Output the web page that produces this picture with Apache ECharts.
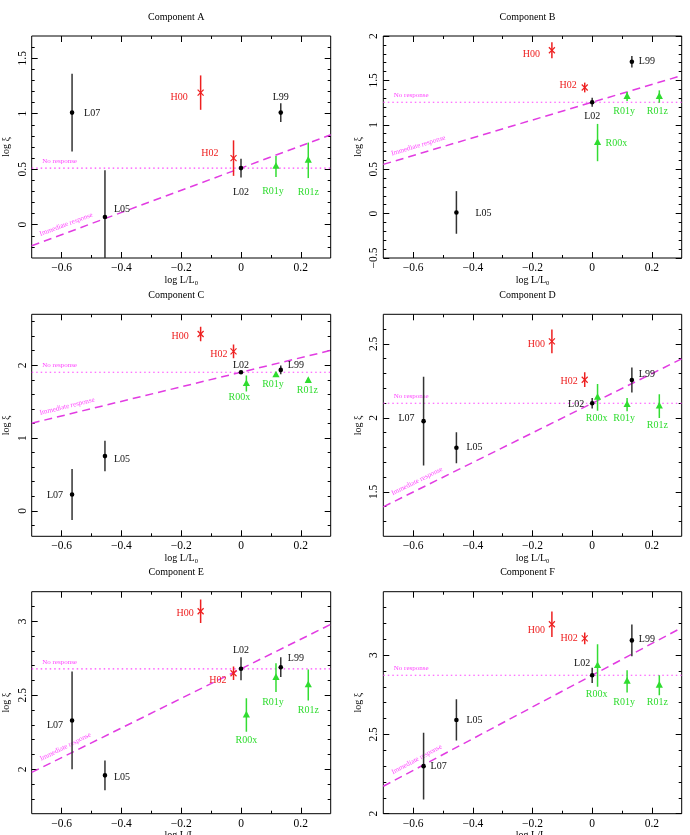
<!DOCTYPE html>
<html>
<head>
<meta charset="utf-8">
<script src="https://cdn.jsdelivr.net/npm/echarts@6/dist/echarts.min.js"></script>
<style>
  html, body { margin: 0; padding: 0; background: #fff; }
  #chart { width: 690px; height: 835px; }
</style>
</head>
<body>
<div id="chart"></div>
<script>
// --- data ---
const panelTitles = ['Component A', 'Component B', 'Component C', 'Component D', 'Component E', 'Component F']
const pointNames  = ['L07', 'L05', 'H00', 'H02', 'L02', 'L99', 'R00x', 'R01y', 'R01z']
const pointGroups = ['L', 'L', 'H', 'H', 'L', 'L', 'R', 'R', 'R']
const logL        = [-0.565, -0.455, -0.135, -0.025, 0, 0.133, 0.018, 0.117, 0.225]

const logXiA = [1.01, 0.07, 1.19, 0.60, 0.51, 1.01, null, 0.525, 0.58]
const errA   = [0.35, 0.42, 0.155, 0.16, 0.085, 0.085, null, 0.095, 0.16]
const logXiB = [null, 0.013, 1.84, 1.42, 1.254, 1.71, 0.80, 1.318, 1.318]
const errB   = [null, 0.24, 0.09, 0.055, 0.05, 0.065, 0.21, 0.05, 0.07]
const logXiC = [0.225, 0.752, 2.43, 2.19, 1.904, 1.936, 1.748, 1.867, 1.79]
const errC   = [0.35, 0.21, 0.10, 0.095, 0.02, 0.06, 0.11, 0.03, 0.03]
const logXiD = [1.978, 1.798, 2.517, 2.258, 2.099, 2.256, 2.139, 2.09, 2.079]
const errD   = [0.30, 0.105, 0.08, 0.05, 0.035, 0.085, 0.09, 0.045, 0.08]
const logXiE = [2.33, 1.959, 3.068, 2.649, 2.679, 2.69, 2.367, 2.62, 2.57]
const errE   = [0.33, 0.10, 0.08, 0.045, 0.078, 0.067, 0.113, 0.097, 0.105]
const logXiF = [2.30, 2.591, 3.195, 3.106, 2.873, 3.093, 2.934, 2.835, 2.81]
const errF   = [0.21, 0.13, 0.08, 0.037, 0.048, 0.10, 0.134, 0.07, 0.063]

const noResponse = [0.51, 1.254, 1.904, 2.099, 2.679, 2.873]
const immediateSlope = 1

const xMin = -0.7, xMax = 0.3
const xTickLabels = [-0.6, -0.4, -0.2, 0, 0.2]
const yMin = [-0.3, -0.5, -0.35, 1.2, 1.7, 2]
const yMax = [1.7, 2, 2.7, 2.7, 3.2, 3.4]
const yTickLabelsA = [0, 0.5, 1, 1.5]
const yTickLabelsB = [-0.5, 0, 0.5, 1, 1.5, 2]
const yTickLabelsC = [0, 1, 2]
const yTickLabelsD = [1.5, 2, 2.5]
const yTickLabelsE = [2, 2.5, 3]
const yTickLabelsF = [2, 2.5, 3]
const yMinorStep = [0.1, 0.1, 0.2, 0.1, 0.1, 0.1]

// label placement next to each point: [dx, dy, align]
const labelPosA = [[12, 1, 'left'], [9, -8, 'left'], [-13, 5, 'right'], [-15, -5, 'right'], [0, 24, 'center'], [0, -15, 'center'], null, [-3, 25, 'center'], [0, 32, 'center']]
const labelPosB = [null, [19, 1, 'left'], [-12, 4, 'right'], [-8, -2, 'right'], [0, 14, 'center'], [7, 0, 'left'], [8, 1, 'left'], [-3, 15, 'center'], [-2, 15, 'center']]
const labelPosC = [[-9, 1, 'right'], [9, 3, 'left'], [-12, 2, 'right'], [-6, 3, 'right'], [0, -7, 'center'], [7, -5, 'left'], [-7, 14, 'center'], [-3, 9, 'center'], [-1, 10, 'center']]
const labelPosD = [[-9, -3, 'right'], [10, 0, 'left'], [-7, 3, 'right'], [-7, 2, 'right'], [-8, 1, 'right'], [7, -6, 'left'], [-1, 21, 'center'], [-3, 14, 'center'], [-2, 19, 'center']]
const labelPosE = [[-9, 5, 'right'], [9, 2, 'left'], [-7, 2, 'right'], [-7, 7, 'right'], [0, -18, 'center'], [7, -9, 'left'], [0, 25, 'center'], [-3, 25, 'center'], [0, 25, 'center']]
const labelPosF = [[7, 0, 'left'], [10, 0, 'left'], [-7, 6, 'right'], [-7, 0, 'right'], [-2, -12, 'right'], [7, -1, 'left'], [-1, 29, 'center'], [-3, 21, 'center'], [-2, 17, 'center']]

const logXi = [logXiA, logXiB, logXiC, logXiD, logXiE, logXiF]
const errs = [errA, errB, errC, errD, errE, errF]
const yTickLabels = [yTickLabelsA, yTickLabelsB, yTickLabelsC, yTickLabelsD, yTickLabelsE, yTickLabelsF]
const labelPos = [labelPosA, labelPosB, labelPosC, labelPosD, labelPosE, labelPosF]

// --- layout / styles ---
const FONT = 'Liberation Serif'
const MAG = '#e23ce2'
const markColor = { L: '#000', H: '#ee2020', R: '#2fdc2f' }
const barColor  = { L: '#333', H: '#ee2020', R: '#33dd33' }
const textColor = { L: '#111', H: '#ee2020', R: '#2fdc2f' }
const gridLeft = [31.7, 383.3]
const gridWidth = [299, 298.4]
const gridTop = [36, 314.3, 591.7]
const gridHeight = 222

function fmt(v) { return v < 0 ? '\u2212' + Math.abs(v) : String(v) }

function minorTicks(lo, hi, step, major) {
  const out = []
  for (let v = Math.ceil(lo / step - 1e-6) * step; v < hi + 1e-9; v += step) {
    const r = Math.round(v * 1000) / 1000
    if (r <= lo + 1e-6 || r >= hi - 1e-6) continue
    if (major.some(m => Math.abs(m - r) < 1e-6)) continue
    out.push(r)
  }
  return out
}

const xMinor = minorTicks(xMin, xMax, 0.1, xTickLabels)

const grids = [], xAxes = [], yAxes = [], series = [], graphics = []

function tickAxis(i, pos, min, max, ticks, len) {
  return {
    gridIndex: i, type: 'value', min, max, position: pos,
    axisLine: { show: false, onZero: false },
    axisTick: { show: true, inside: true, length: len, customValues: ticks, lineStyle: { color: '#000', width: 1 } },
    axisLabel: { show: false },
    splitLine: { show: false }
  }
}

for (let i = 0; i < 6; i++) {
  const col = i % 2, row = Math.floor(i / 2)
  grids.push({
    left: gridLeft[col], top: gridTop[row], width: gridWidth[col], height: gridHeight,
    show: true, borderColor: '#000', borderWidth: 1, containLabel: false, outerBoundsMode: 'none'
  })
  const yMinor = minorTicks(yMin[i], yMax[i], yMinorStep[i], yTickLabels[i])

  const xMain = tickAxis(i, 'bottom', xMin, xMax, xTickLabels, 6)
  xMain.axisLabel = { show: true, customValues: xTickLabels, formatter: fmt, margin: 4, fontSize: 11.5, fontFamily: FONT, color: '#000' }
  xMain.name = 'log L/L{s|0}'
  xMain.nameLocation = 'middle'
  xMain.nameGap = 13
  xMain.nameTextStyle = { fontSize: 10, fontFamily: FONT, color: '#000', rich: { s: { fontSize: 6.5, fontFamily: FONT, color: '#000', padding: [6, 0, 0, 0] } } }
  xAxes.push(xMain, tickAxis(i, 'bottom', xMin, xMax, xMinor, 3),
             tickAxis(i, 'top', xMin, xMax, xTickLabels, 6), tickAxis(i, 'top', xMin, xMax, xMinor, 3))

  const yMainAx = tickAxis(i, 'left', yMin[i], yMax[i], yTickLabels[i], 6)
  yMainAx.axisLabel = { show: true, customValues: yTickLabels[i], formatter: fmt, rotate: 90, margin: 3, fontSize: 11.5, fontFamily: FONT, color: '#000' }
  yMainAx.name = 'log \u03be'
  yMainAx.nameLocation = 'middle'
  yMainAx.nameGap = 20
  yMainAx.nameTextStyle = { fontSize: 10, fontFamily: FONT, color: '#000' }
  yAxes.push(yMainAx, tickAxis(i, 'left', yMin[i], yMax[i], yMinor, 3),
             tickAxis(i, 'right', yMin[i], yMax[i], yTickLabels[i], 6), tickAxis(i, 'right', yMin[i], yMax[i], yMinor, 3))

  const nr = noResponse[i]
  series.push({
    type: 'line', xAxisIndex: 4 * i, yAxisIndex: 4 * i, silent: true, symbol: 'none', z: 2,
    data: [[xMin, nr], [xMax, nr]],
    lineStyle: { color: '#ff44ff', width: 1.2, type: [1.5, 3] }
  })
  series.push({
    type: 'line', xAxisIndex: 4 * i, yAxisIndex: 4 * i, silent: true, symbol: 'none', z: 2,
    data: [[xMin, nr + immediateSlope * xMin], [xMax, nr + immediateSlope * xMax]],
    lineStyle: { color: MAG, width: 1.5, type: [8, 5] }
  })
  series.push({
    type: 'custom', xAxisIndex: 4 * i, yAxisIndex: 4 * i, silent: true, z: 3,
    data: [[-0.665, nr]],
    renderItem: (params, api) => {
      const lx = api.value(0), ny = api.value(1)
      const pN = api.coord([lx, ny])
      const a = api.coord([xMin, ny + immediateSlope * xMin])
      const b = api.coord([xMax, ny + immediateSlope * xMax])
      const ang = Math.atan2(a[1] - b[1], b[0] - a[0])
      const ix = -0.575
      const c = api.coord([ix, ny + immediateSlope * ix])
      const off = 8
      return {
        type: 'group', children: [
          { type: 'text', x: pN[0], y: pN[1] - 7, style: { text: 'No response', fill: '#ff44ff', fontSize: 7, fontFamily: FONT, align: 'left', verticalAlign: 'middle' } },
          { type: 'text', x: c[0] - Math.sin(ang) * off, y: c[1] - Math.cos(ang) * off, rotation: ang,
            style: { text: 'Immediate response', fill: '#ff44ff', fontSize: 7, fontFamily: FONT, align: 'center', verticalAlign: 'middle' } }
        ]
      }
    }
  })

  const pts = []
  logXi[i].forEach((v, k) => { if (v != null) pts.push([logL[k], v, errs[i][k], k]) })
  series.push({
    type: 'custom', xAxisIndex: 4 * i, yAxisIndex: 4 * i, silent: true, clip: true, z: 5,
    encode: { x: 0, y: 1 },
    data: pts,
    renderItem: (params, api) => {
      const x = api.value(0), y = api.value(1), e = api.value(2), k = api.value(3)
      const g = pointGroups[k]
      const c = api.coord([x, y]), t = api.coord([x, y + e]), b = api.coord([x, y - e])
      const kids = [{ type: 'line', shape: { x1: c[0], y1: t[1], x2: c[0], y2: b[1] }, style: { stroke: barColor[g], lineWidth: 1.5 } }]
      if (g === 'L') {
        kids.push({ type: 'circle', shape: { cx: c[0], cy: c[1], r: 2.3 }, style: { fill: markColor.L } })
      } else if (g === 'H') {
        const s = 3
        kids.push({ type: 'line', shape: { x1: c[0] - s, y1: c[1] - s, x2: c[0] + s, y2: c[1] + s }, style: { stroke: markColor.H, lineWidth: 1.2 } })
        kids.push({ type: 'line', shape: { x1: c[0] - s, y1: c[1] + s, x2: c[0] + s, y2: c[1] - s }, style: { stroke: markColor.H, lineWidth: 1.2 } })
      } else {
        kids.push({ type: 'polygon', shape: { points: [[c[0], c[1] - 4.2], [c[0] - 3.6, c[1] + 2.4], [c[0] + 3.6, c[1] + 2.4]] }, style: { fill: markColor.R } })
      }
      const lp = labelPos[i][k]
      if (lp) {
        kids.push({ type: 'text', x: c[0] + lp[0], y: c[1] + lp[1],
          style: { text: pointNames[k], fill: textColor[g], fontSize: 10, fontFamily: FONT, align: lp[2], verticalAlign: 'middle' } })
      }
      return { type: 'group', children: kids }
    }
  })

  graphics.push({
    type: 'text', x: gridLeft[col] + gridWidth[col] / 2 - 5, y: gridTop[row] - 19,
    style: { text: panelTitles[i], fontSize: 10, fontFamily: FONT, fill: '#000', align: 'center', verticalAlign: 'middle' }
  })
}

const chart = echarts.init(document.getElementById('chart'), null, { renderer: 'canvas' })
chart.setOption({
  backgroundColor: '#fff',
  animation: false,
  grid: grids,
  xAxis: xAxes,
  yAxis: yAxes,
  series,
  graphic: graphics
})
window.addEventListener('resize', () => chart.resize())
</script>
</body>
</html>
